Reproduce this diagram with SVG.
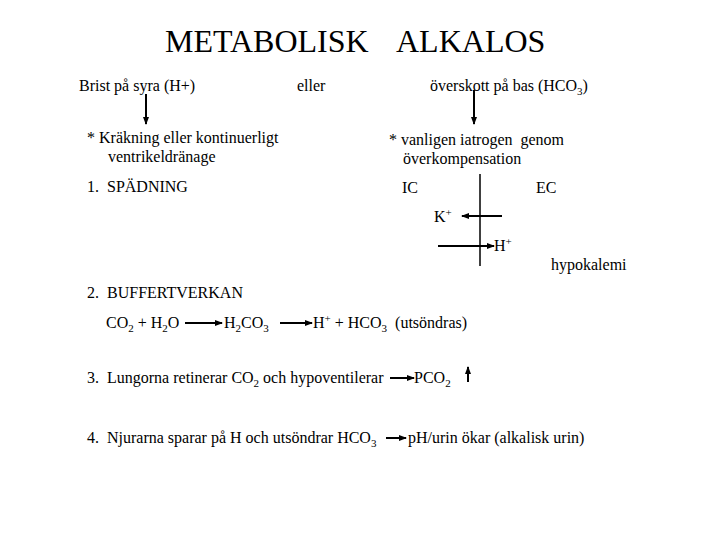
<svg xmlns="http://www.w3.org/2000/svg" width="720" height="540" viewBox="0 0 720 540">
<style>
text{font-family:"Liberation Serif","Times New Roman",serif;font-size:16px;fill:#000}
.title{font-size:32px}
.sub{font-size:11px}
.sup{font-size:11px}
.c{stroke:#000;stroke-width:2;fill:none}
</style>
<defs>
<marker id="ah" markerWidth="8" markerHeight="6" refX="7" refY="3" orient="auto" markerUnits="userSpaceOnUse">
<path d="M0,0 L8,3 L0,6 Z" fill="#000"/>
</marker>
</defs>
<rect width="720" height="540" fill="#fff"/>
<g id="title">
<text class="title" x="165" y="52">METABOLISK</text>
<text class="title" x="396" y="52">ALKALOS</text>
</g>
<g id="brist"><text x="79" y="91">Brist på syra (H+)</text></g>
<g id="eller"><text x="297" y="91">eller</text></g>
<g id="overskott"><text x="430" y="91">överskott på bas (HCO<tspan class="sub" dy="4">3</tspan><tspan dy="-4">)</tspan></text></g>
<g id="krakning">
<text x="87" y="143">* Kräkning eller kontinuerligt</text>
<text x="108" y="162">ventrikeldränage</text>
</g>
<g id="vanligen">
<text x="389" y="145">* vanligen iatrogen&#160; genom</text>
<text x="403" y="164">överkompensation</text>
</g>
<g id="spadning"><text x="87" y="192">1.&#160; SPÄDNING</text></g>
<g id="ic"><text x="402" y="193">IC</text></g>
<g id="ec"><text x="536" y="193">EC</text></g>
<g id="kplus"><text x="434" y="222">K<tspan class="sup" dy="-6">+</tspan></text></g>
<g id="hplus"><text x="494" y="251">H<tspan class="sup" dy="-6">+</tspan></text></g>
<g id="hypokalemi"><text x="551" y="270">hypokalemi</text></g>
<g id="buffert"><text x="87" y="298">2.&#160; BUFFERTVERKAN</text></g>
<g id="co2h2o"><text x="106" y="328">CO<tspan class="sub" dy="4">2</tspan><tspan dy="-4"> + H</tspan><tspan class="sub" dy="4">2</tspan><tspan dy="-4">O</tspan></text></g>
<g id="h2co3"><text x="224" y="328">H<tspan class="sub" dy="4">2</tspan><tspan dy="-4">CO</tspan><tspan class="sub" dy="4">3</tspan></text></g>
<g id="hhco3"><text x="313" y="328">H<tspan class="sup" dy="-6">+</tspan><tspan dy="6"> + HCO</tspan><tspan class="sub" dy="4">3</tspan><tspan dy="-4">&#160; (utsöndras)</tspan></text></g>
<g id="lungorna"><text x="87" y="383">3.&#160; Lungorna retinerar CO<tspan class="sub" dy="4">2</tspan><tspan dy="-4"> och hypoventilerar</tspan></text></g>
<g id="pco2"><text x="414" y="383">PCO<tspan class="sub" dy="4">2</tspan></text></g>
<g id="njurarna"><text x="87" y="443">4.&#160; Njurarna sparar på H och utsöndrar HCO<tspan class="sub" dy="4">3</tspan></text></g>
<g id="phurin"><text x="408" y="443">pH/urin ökar (alkalisk urin)</text></g>
<g id="connectors">
<line class="c" x1="146" y1="94" x2="146" y2="124" marker-end="url(#ah)"/>
<line class="c" x1="474" y1="90" x2="474" y2="124" marker-end="url(#ah)"/>
<line x1="480" y1="174" x2="480" y2="266" stroke="#000" stroke-width="1.5"/>
<line class="c" x1="502" y1="216" x2="462" y2="216" marker-end="url(#ah)"/>
<line class="c" x1="438" y1="246" x2="494" y2="246" marker-end="url(#ah)"/>
<line class="c" x1="185" y1="323" x2="222" y2="323" marker-end="url(#ah)"/>
<line class="c" x1="280" y1="323" x2="312" y2="323" marker-end="url(#ah)"/>
<line class="c" x1="390" y1="378" x2="414" y2="378" marker-end="url(#ah)"/>
<line class="c" x1="468" y1="382" x2="468" y2="367" marker-end="url(#ah)"/>
<line class="c" x1="386" y1="438" x2="406" y2="438" marker-end="url(#ah)"/>
</g>
</svg>
